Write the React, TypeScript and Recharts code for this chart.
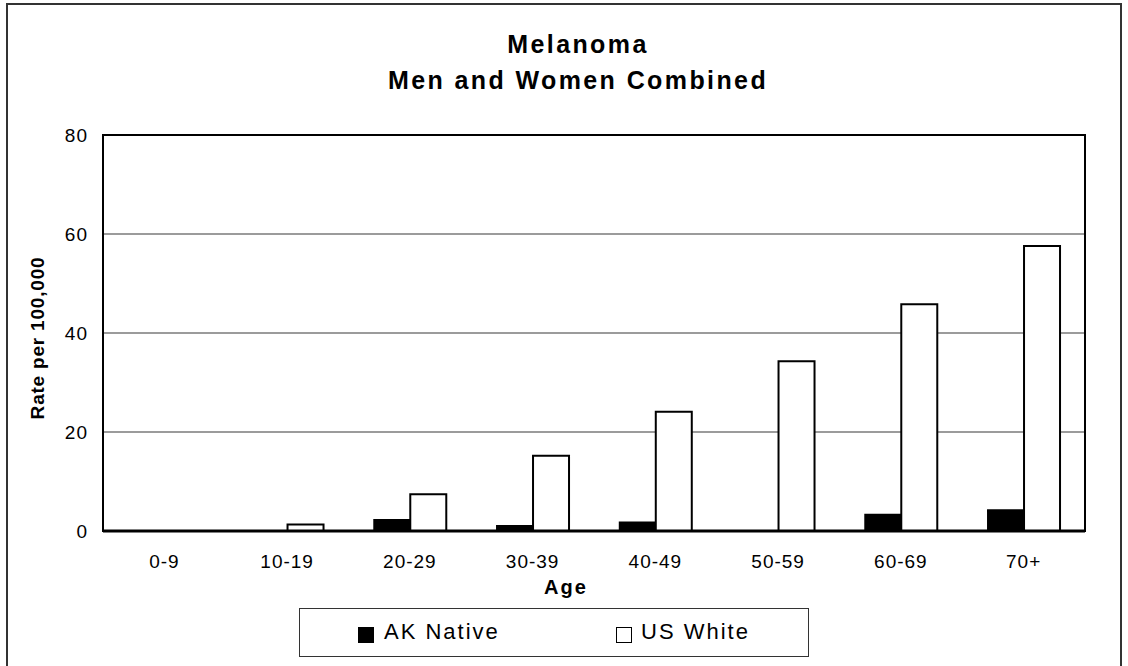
import React from 'react';
import { BarChart, Bar, XAxis, YAxis, CartesianGrid, ReferenceArea } from 'recharts';

const ageGroups = ['0-9', '10-19', '20-29', '30-39', '40-49', '50-59', '60-69', '70+'];
const akNative = [0, 0, 2.2, 1.0, 1.7, 0, 3.3, 4.2];
const usWhite = [0, 1.3, 7.4, 15.2, 24.1, 34.3, 45.8, 57.6];
const yTicks = [0, 20, 40, 60, 80];
const seriesNames = ['AK Native', 'US White'];
const titleLines = ['Melanoma', 'Men and Women Combined'];
const xAxisTitle = 'Age';
const yAxisTitle = 'Rate per 100,000';

const data = ageGroups.map((age, i) => ({ age, ak: akNative[i], us: usWhite[i] }));

const FONT = '"Liberation Sans", Arial, Helvetica, sans-serif';

export default function App() {
  return (
    <div
      style={{
        position: 'absolute',
        left: 0,
        top: 0,
        width: 1128,
        height: 666,
        overflow: 'hidden',
        background: '#fff',
        fontFamily: FONT,
      }}
    >
      {/* outer chart border */}
      <div
        style={{
          position: 'absolute',
          left: 6,
          top: 3,
          width: 1116,
          height: 720,
          border: '2px solid #333',
          boxSizing: 'border-box',
        }}
      />
      <svg
        width={1128}
        height={666}
        style={{ position: 'absolute', left: 0, top: 0, pointerEvents: 'none' }}
      >
        <text
          x={578}
          y={53}
          textAnchor="middle"
          fontSize={25}
          fontWeight="bold"
          letterSpacing={2.4}
          fontFamily={FONT}
          fill="#000"
        >
          {titleLines[0]}
        </text>
        <text
          x={578}
          y={89}
          textAnchor="middle"
          fontSize={25}
          fontWeight="bold"
          letterSpacing={2.4}
          fontFamily={FONT}
          fill="#000"
        >
          {titleLines[1]}
        </text>
        <text
          x={566}
          y={594}
          textAnchor="middle"
          fontSize={20}
          fontWeight="bold"
          letterSpacing={2}
          fontFamily={FONT}
          fill="#000"
        >
          {xAxisTitle}
        </text>
        <text
          x={44}
          y={338}
          textAnchor="middle"
          fontSize={19}
          fontWeight="bold"
          letterSpacing={0.8}
          fontFamily={FONT}
          fill="#000"
          transform="rotate(-90 44 338)"
        >
          {yAxisTitle}
        </text>
      </svg>
      <div style={{ position: 'absolute', left: 0, top: 0 }}>
        <BarChart
          width={1128}
          height={666}
          data={data}
          margin={{ top: 135, right: 43, bottom: 105, left: 43 }}
          barCategoryGap="21%"
          barGap={0}
        >
          <CartesianGrid vertical={false} stroke="#7a7a7a" strokeWidth={1.5} />
          <XAxis
            dataKey="age"
            height={30}
            tickLine={false}
            tickSize={0}
            tickMargin={24}
            axisLine={{ stroke: '#000', strokeWidth: 3 }}
            tick={{ fill: '#000', fontSize: 19, letterSpacing: 1, fontFamily: FONT }}
            interval={0}
          />
          <YAxis
            width={60}
            domain={[0, 80]}
            ticks={yTicks}
            tickLine={false}
            tickSize={0}
            tickMargin={15}
            axisLine={{ stroke: '#000', strokeWidth: 2 }}
            tick={{ fill: '#000', fontSize: 19, letterSpacing: 1, fontFamily: FONT }}
          />
          <ReferenceArea y1={0} y2={80} fill="none" stroke="#000" strokeWidth={2} ifOverflow="visible" />
          <Bar dataKey="ak" name={seriesNames[0]} fill="#000" stroke="#000" strokeWidth={2} isAnimationActive={false} />
          <Bar dataKey="us" name={seriesNames[1]} fill="#fff" stroke="#000" strokeWidth={2} isAnimationActive={false} />
        </BarChart>
      </div>
      {/* legend */}
      <div
        style={{
          position: 'absolute',
          left: 299,
          top: 608,
          width: 510,
          height: 49,
          border: '1px solid #333',
          boxSizing: 'border-box',
          background: '#fff',
        }}
      >
        <div
          style={{
            position: 'absolute',
            left: 58,
            top: 18,
            width: 16,
            height: 16,
            background: '#000',
            boxSizing: 'border-box',
          }}
        />
        <div
          style={{
            position: 'absolute',
            left: 84,
            top: 8,
            fontSize: 22,
            letterSpacing: 2,
            lineHeight: '30px',
            color: '#000',
            whiteSpace: 'nowrap',
          }}
        >
          {seriesNames[0]}
        </div>
        <div
          style={{
            position: 'absolute',
            left: 316,
            top: 18,
            width: 16,
            height: 16,
            background: '#fff',
            border: '1.5px solid #000',
            boxSizing: 'border-box',
          }}
        />
        <div
          style={{
            position: 'absolute',
            left: 341,
            top: 8,
            fontSize: 22,
            letterSpacing: 2,
            lineHeight: '30px',
            color: '#000',
            whiteSpace: 'nowrap',
          }}
        >
          {seriesNames[1]}
        </div>
      </div>
    </div>
  );
}
